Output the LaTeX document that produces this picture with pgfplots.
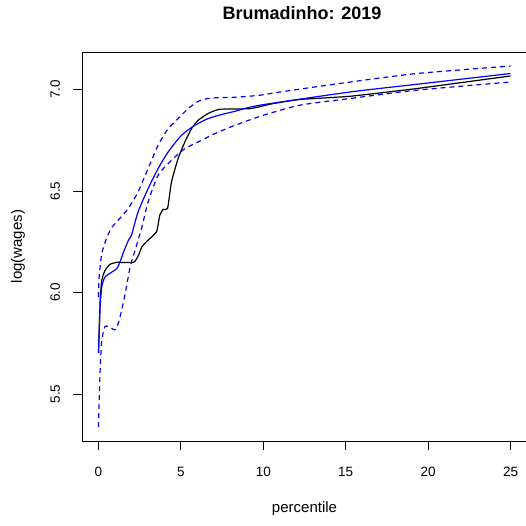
\documentclass[border=0pt]{standalone}
\usepackage{pgfplots}
\pgfplotsset{compat=1.18}
\usepackage{fontspec}
\setmainfont{Liberation Sans}
\begin{document}
\begin{tikzpicture}
\path[use as bounding box] (0,0) rectangle (526pt,525pt);
\begin{axis}[
  at={(82pt,84pt)}, anchor=south west,
  scale only axis, width=445pt, height=389pt,
  xmin=-1, xmax=26, ymin=5.269, ymax=7.185,
  axis line style={line width=0.9pt},
  tick style={line width=0.9pt, black},
  tick align=outside, major tick length=9pt,
  xtick={0,5,10,15,20,25}, xticklabels={0,5,10,15,20,25},
  ytick={5.5,6,6.5,7}, yticklabels={5.5,6.0,6.5,7.0},
  xtick pos=lower, ytick pos=left,
  ticklabel style={font=\fontsize{13.5}{16}\selectfont},
  xticklabel style={anchor=base, inner sep=0pt, yshift=-26pt},
  yticklabel style={xshift=-13pt, rotate=90, anchor=base, inner sep=0pt},
  /pgf/number format/assume math mode=true,
  title={\bfseries Brumadinho: 2019},
  title style={font=\fontsize{18}{21}\selectfont, at={(axis description cs:0.4944,1.085)}, anchor=center},
  xlabel={percentile},
  xlabel style={font=\fontsize{15}{18}\selectfont, at={(axis description cs:0.5,-0.175)}, anchor=center},
  ylabel={log(wages)},
  ylabel style={font=\fontsize{15}{18}\selectfont, at={(axis description cs:-0.1438,0.5)}, anchor=center},
]
% empirical
\addplot[black, line width=1.2pt, smooth, tension=0.3] coordinates {
(0,5.702) (0.10,5.962) (0.20,6.061) (0.40,6.110) (0.70,6.139) (1.11,6.149) (2.13,6.149)
(2.43,6.184) (2.63,6.225) (2.96,6.255) (3.52,6.299) (3.72,6.381) (3.92,6.410) (4.19,6.414)
(4.43,6.545) (4.83,6.660) (5.24,6.742) (5.65,6.808) (6.05,6.849) (6.65,6.882) (7.36,6.903)
(9.19,6.906) (10.60,6.931) (12.22,6.951) (15.26,6.967) (19.31,7.005) (25,7.067)
};
% fitted
\addplot[blue, line width=1.2pt, smooth, tension=0.4] coordinates {
(0,5.702) (0.10,5.929) (0.20,6.028) (0.40,6.077) (0.81,6.101) (1.11,6.118) (1.31,6.151)
(1.52,6.200) (1.82,6.258) (2.00,6.282) (2.40,6.397) (3.01,6.512) (3.62,6.611) (4.23,6.693)
(5.04,6.775) (5.85,6.824) (6.65,6.857) (7.47,6.877) (8.28,6.893) (9.79,6.923) (15.26,6.988)
(19.31,7.026) (25,7.079)
};
% upper band
\addplot[blue, line width=1.2pt, dash pattern=on 5pt off 4pt, smooth, tension=0.4] coordinates {
(0,5.978) (0.04,6.077) (0.20,6.192) (0.50,6.270) (0.80,6.320) (1.19,6.356) (1.80,6.414)
(2.40,6.496) (3.01,6.611) (3.62,6.726) (4.23,6.808) (4.83,6.857) (5.44,6.906) (6.05,6.942)
(6.65,6.956) (7.47,6.961) (8.28,6.962) (9.79,6.972) (11.01,6.988) (15.26,7.037) (19.31,7.079) (25,7.116)
};
% lower band
\addplot[blue, line width=1.2pt, dash pattern=on 5pt off 4pt, smooth, tension=0.4] coordinates {
(0,5.338) (0.10,5.617) (0.20,5.765) (0.40,5.834) (0.70,5.828) (1.05,5.818) (1.31,5.880)
(1.62,5.995) (1.92,6.126) (2.20,6.203) (2.61,6.315) (3.01,6.446) (3.62,6.578) (4.43,6.652)
(5.24,6.709) (6.25,6.750) (7.06,6.783) (8.28,6.824) (9.99,6.873) (12.22,6.923) (15.26,6.956)
(19.31,6.997) (25,7.037)
};
\end{axis}
\end{tikzpicture}
\end{document}
